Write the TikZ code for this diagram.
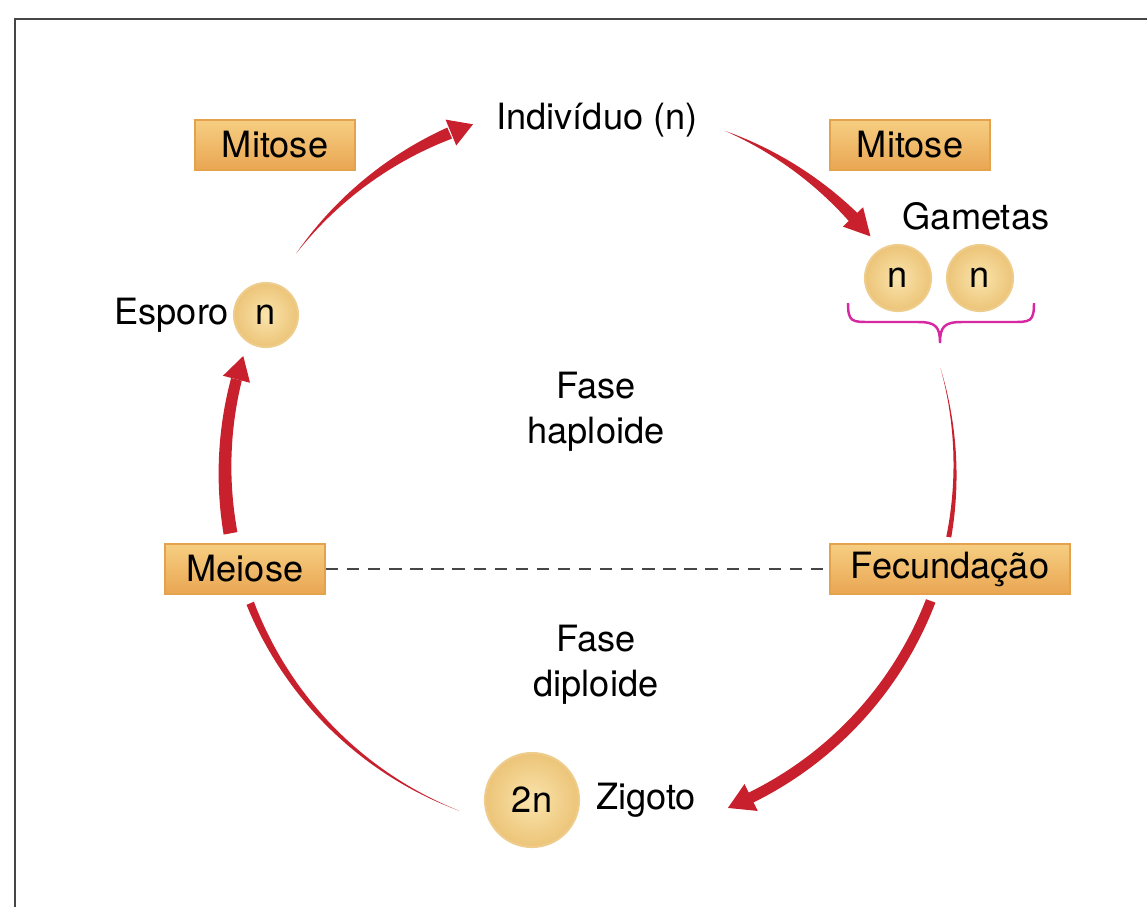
\documentclass[tikz,border=0pt]{standalone}
\usepackage{fontspec}
\setmainfont{TeX Gyre Heros}
\usetikzlibrary{positioning}
\definecolor{cycred}{RGB}{200,32,44}
\definecolor{boxtop}{RGB}{246,206,130}
\definecolor{boxbot}{RGB}{233,166,82}
\definecolor{boxedge}{RGB}{228,162,76}
\definecolor{cellin}{RGB}{250,228,172}
\definecolor{cellout}{RGB}{236,196,120}
\definecolor{celledge}{RGB}{238,204,140}
\definecolor{bracemag}{RGB}{214,40,160}
\definecolor{framegray}{RGB}{70,70,70}
\newcommand{\cyclefont}{\fontsize{20.6}{25.5}\selectfont}
\tikzset{
  phasebox/.style={draw=boxedge, line width=1.1pt, top color=boxtop, bottom color=boxbot,
    minimum width=3.2cm, minimum height=1cm, inner sep=2pt, font=\cyclefont},
  cellnode/.style={circle, draw=celledge, line width=1.2pt, inner color=cellin, outer color=cellout,
    minimum size=1.28cm, inner sep=0pt, font=\cyclefont},
  celltext/.style={inner sep=0pt, font=\cyclefont, align=center},
}
% tapered band along the cycle circle: from angle, to angle, width at start, width at end (px)
\newcommand{\cycband}[4]{%
  \fill[cycred] plot[domain=0:1, samples=60, variable=\t]
    ({590+(365+((#3)+((#4)-(#3))*\t)/2)*cos((#1)+((#2)-(#1))*\t)},
     {470-(365+((#3)+((#4)-(#3))*\t)/2)*sin((#1)+((#2)-(#1))*\t)})
    -- plot[domain=0:1, samples=60, variable=\t]
    ({590+(365-((#4)+((#3)-(#4))*\t)/2)*cos((#2)+((#1)-(#2))*\t)},
     {470-(365-((#4)+((#3)-(#4))*\t)/2)*sin((#2)+((#1)-(#2))*\t)}) -- cycle;}
% arrow head on the cycle circle: base angle, tip angle, half width (px)
\newcommand{\cychead}[3]{%
  \fill[cycred] ({590+(365+(#3))*cos(#1)},{470-(365+(#3))*sin(#1)})
    -- ({590+365*cos(#2)},{470-365*sin(#2)})
    -- ({590+(365-(#3))*cos(#1)},{470-(365-(#3))*sin(#1)}) -- cycle;}

\begin{document}
\begin{tikzpicture}[x=0.02cm, y=-0.02cm]
  \useasboundingbox (0,0) rectangle (1147,907);
  \draw[framegray, line width=1.7pt] (15,907) -- (15,19) -- (1147,19);

  % cycle arcs
  \cycband{143.6}{112.6}{0}{12}
  \cychead{112.4}{108.7}{14}
  \cycband{68.3}{43.4}{0}{12}
  \cychead{43.9}{39.8}{14}
  \cycband{16.2}{-10.6}{0}{5}
  \cycband{-21}{-64.3}{10}{11}
  \cychead{-63.8}{-67.8}{15}
  \cycband{249}{201.4}{0}{8}
  \cycband{190}{165.6}{14}{11}
  \cychead{165.6}{161.8}{14}

  \node[phasebox] (mitL) at (275,145) {Mitose};
  \node[phasebox] (mitR) at (910,145) {Mitose};
  \node[phasebox] (meio) at (245,569) {Meiose};
  \node[phasebox, minimum width=4.8cm] (fecund) at (950,569) {\raisebox{-1.5pt}{Fecundação}};

  \node[celltext] (indiv) at (597,120) {Indivíduo (n)};
  \node[cellnode] (esp) at (266,315) {n};
  \node[celltext, left=2pt of esp] (esplbl) {Esporo};
  \node[cellnode, minimum size=1.32cm] (gam1) at (898,278) {n};
  \node[cellnode, minimum size=1.32cm] (gam2) at (980,278) {n};
  \node[celltext] (gamlbl) at (976,216) {Gametas};
  \node[cellnode, minimum size=1.88cm] (zig) at (532,800) {2n};
  \node[celltext, right=9pt of zig] (ziglbl) {Zigoto};
  \node[celltext] (hapl) at (596,412) {Fase\\haploide};
  \node[celltext] (dipl) at (596,665) {Fase\\diploide};

  \draw[framegray, line width=1.1pt, dash pattern=on 7pt off 5pt] (meio) -- (fecund);
  \draw[bracemag, line width=1.4pt] (848,303) .. controls (848,322) and (852,322) .. (870,322)
    -- (918,322) .. controls (936,322) and (940,327) .. (940,343)
    .. controls (940,327) and (944,322) .. (962,322) -- (1012,322)
    .. controls (1030,322) and (1034,322) .. (1034,303);
\end{tikzpicture}
\end{document}
